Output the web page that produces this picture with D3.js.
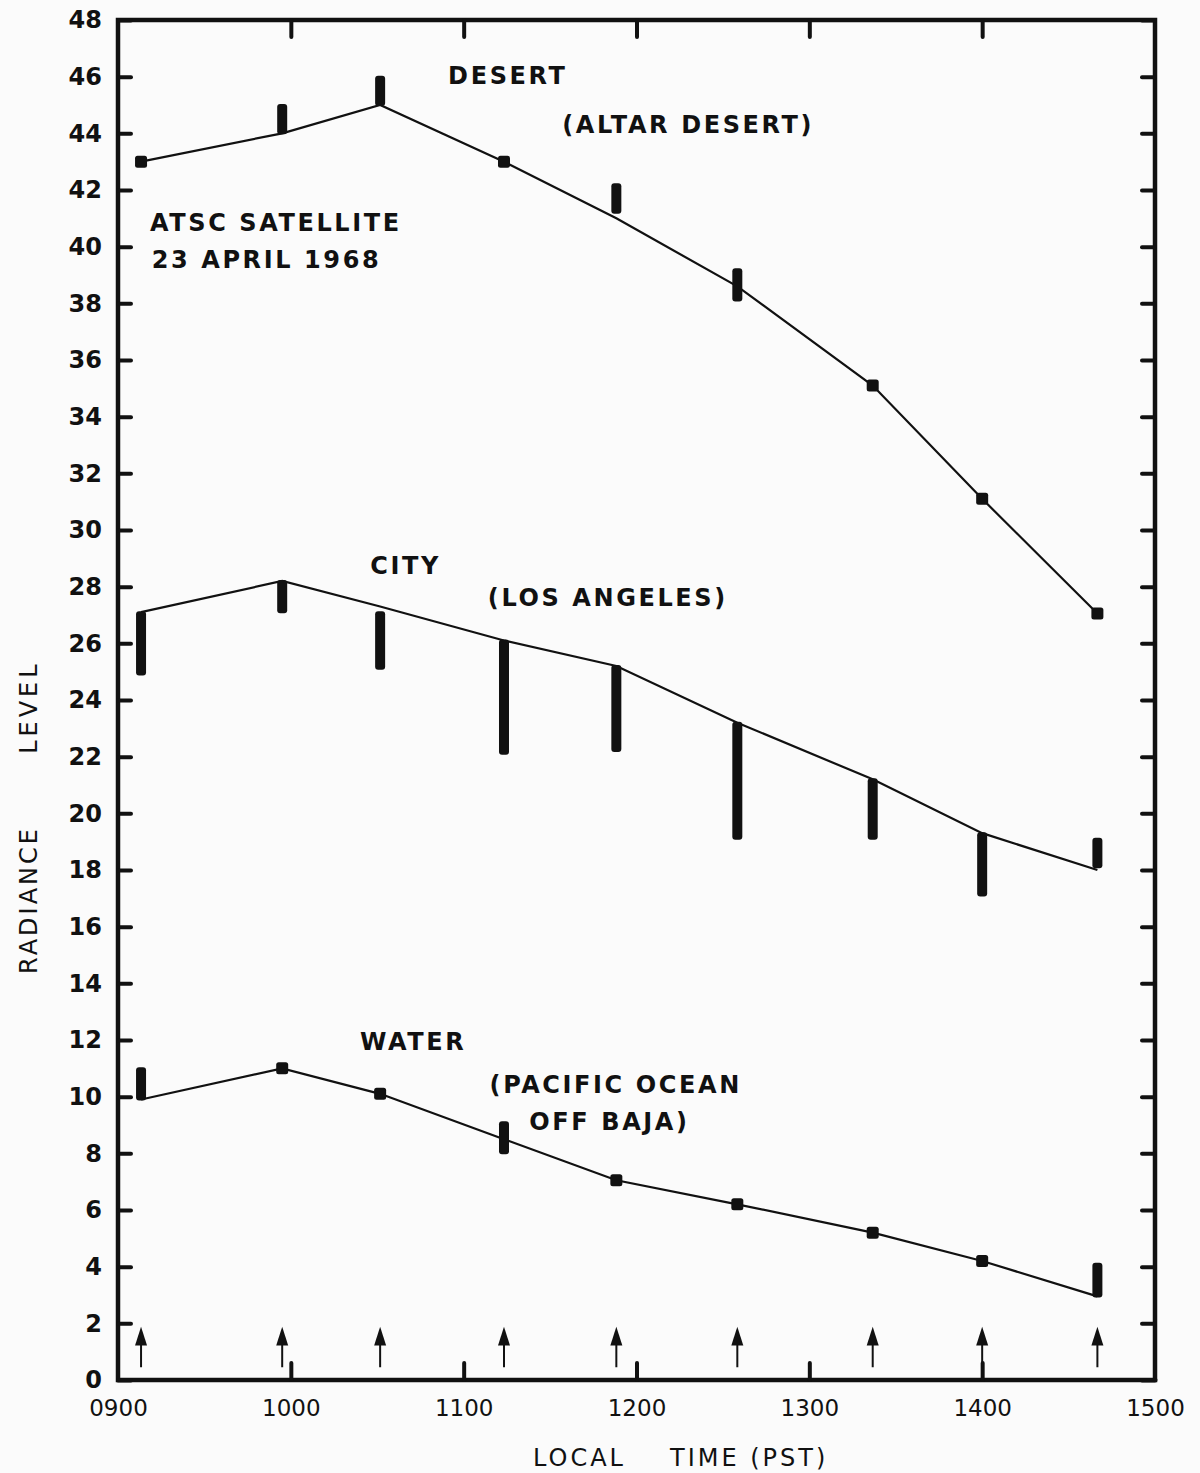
<!DOCTYPE html>
<html>
<head>
<meta charset="utf-8">
<script src="https://cdn.jsdelivr.net/npm/d3@7"></script>
<style>
  html, body { margin: 0; padding: 0; background: #fbfbfb; }
  svg { display: block; }
  text { font-family: "DejaVu Sans", sans-serif; fill: #111; }
</style>
</head>
<body>
<svg id="chart" width="1200" height="1473"></svg>
<script>
// ---- data ----
const times = ["0908", "0957", "1031", "1114", "1153", "1235", "1322", "1400", "1440"];

const desertLine = [43.0, 44.0, 45.0, 43.0, 41.0, 38.6, 35.1, 31.1, 27.05];
const desertLow  = [43.0, 44.0, 45.0, 43.0, 41.2, 38.1, 35.1, 31.1, 27.05];
const desertHigh = [43.0, 45.0, 46.0, 43.0, 42.2, 39.2, 35.1, 31.1, 27.05];

const cityLine = [27.1, 28.2, 27.3, 26.1, 25.2, 23.2, 21.2, 19.3, 18.0];
const cityLow  = [24.9, 27.1, 25.1, 22.1, 22.2, 19.1, 19.1, 17.1, 18.1];
const cityHigh = [27.1, 28.2, 27.1, 26.1, 25.2, 23.2, 21.2, 19.3, 19.1];

const waterLine = [9.9, 11.0, 10.1, 8.5, 7.05, 6.2, 5.2, 4.2, 2.95];
const waterLow  = [9.9, 11.0, 10.1, 8.0, 7.05, 6.2, 5.2, 4.2, 2.95];
const waterHigh = [11.0, 11.0, 10.1, 9.1, 7.05, 6.2, 5.2, 4.2, 4.1];

const xTickValues = [9, 10, 11, 12, 13, 14, 15];
const xTickLabels = ["0900", "1000", "1100", "1200", "1300", "1400", "1500"];
const innerXTicks = [10, 11, 12, 13, 14];
const yTickValues = d3.range(0, 49, 2);

const seriesLabels = [
  { text: "DESERT", t: 10.91, v: 45.75 },
  { text: "(ALTAR DESERT)", t: 11.57, v: 44.0 },
  { text: "ATSC SATELLITE", t: 9.185, v: 40.55 },
  { text: "23 APRIL 1968", t: 9.195, v: 39.25 },
  { text: "CITY", t: 10.46, v: 28.45 },
  { text: "(LOS ANGELES)", t: 11.14, v: 27.32 },
  { text: "WATER", t: 10.40, v: 11.65 },
  { text: "(PACIFIC OCEAN", t: 11.15, v: 10.13 },
  { text: "OFF BAJA)", t: 11.38, v: 8.82 }
];

// ---- layout ----
const svg = d3.select("#chart");
const mLeft = 118, mRight = 1155, mTop = 20, mBottom = 1380;

const toHours = s => +s.slice(0, 2) + (+s.slice(2)) / 60;
const x = d3.scaleLinear().domain([9, 15]).range([mLeft, mRight]);
const y = d3.scaleLinear().domain([0, 48]).range([mBottom, mTop]);

// frame
svg.append("rect")
  .attr("x", mLeft).attr("y", mTop)
  .attr("width", mRight - mLeft).attr("height", mBottom - mTop)
  .attr("fill", "none").attr("stroke", "#111").attr("stroke-width", 4.5);

// left axis (ticks inward, labels)
const gL = svg.append("g").attr("transform", `translate(${mLeft},0)`)
  .call(d3.axisLeft(y).tickValues(yTickValues).tickSize(-13).tickPadding(16).tickFormat(d3.format("d")));
// right axis ticks inward
const gR = svg.append("g").attr("transform", `translate(${mRight},0)`)
  .call(d3.axisRight(y).tickValues(yTickValues).tickSize(-13).tickFormat(""));
// bottom axis: labels at all hours, inward ticks at inner hours
const gB = svg.append("g").attr("transform", `translate(0,${mBottom})`)
  .call(d3.axisBottom(x).tickValues(xTickValues).tickSize(0).tickPadding(20)
    .tickFormat((d, i) => xTickLabels[i]));
const gB2 = svg.append("g").attr("transform", `translate(0,${mBottom})`)
  .call(d3.axisBottom(x).tickValues(innerXTicks).tickSize(-17).tickFormat(""));
const gT = svg.append("g").attr("transform", `translate(0,${mTop})`)
  .call(d3.axisTop(x).tickValues(innerXTicks).tickSize(-17).tickFormat(""));

[gL, gR, gB, gB2, gT].forEach(g => {
  g.select(".domain").remove();
  g.selectAll(".tick line").attr("stroke", "#111").attr("stroke-width", 4).attr("stroke-linecap", "round");
});
gL.selectAll(".tick text")
  .style("font-family", "DejaVu Sans").style("font-size", "24px").style("font-weight", "bold").attr("fill", "#111");
gB.selectAll(".tick text")
  .style("font-family", "DejaVu Sans").style("font-size", "23px").attr("fill", "#111");

// axis titles
const xt = svg.append("text")
  .attr("y", mBottom + 86)
  .style("font-size", "24px").style("letter-spacing", "3px");
xt.append("tspan").attr("x", 533).text("LOCAL");
xt.append("tspan").attr("x", 670).text("TIME (PST)");

svg.append("text")
  .attr("transform", `translate(37,${y(16.94)}) rotate(-90)`)
  .attr("text-anchor", "middle")
  .style("font-size", "24px").style("letter-spacing", "3px")
  .text("RADIANCE");
svg.append("text")
  .attr("transform", `translate(37,${y(23.75)}) rotate(-90)`)
  .attr("text-anchor", "middle")
  .style("font-size", "24px").style("letter-spacing", "4px")
  .text("LEVEL");

// series
const series = [
  { line: desertLine, low: desertLow, high: desertHigh },
  { line: cityLine, low: cityLow, high: cityHigh },
  { line: waterLine, low: waterLow, high: waterHigh }
];
const lineGen = d3.line().x(d => x(d.t)).y(d => y(d.v));

series.forEach(s => {
  const pts = times.map((tm, i) => ({ t: toHours(tm), v: s.line[i], lo: s.low[i], hi: s.high[i] }));
  svg.append("path").datum(pts)
    .attr("d", lineGen)
    .attr("fill", "none").attr("stroke", "#111").attr("stroke-width", 2.2);
  svg.append("g").selectAll("rect").data(pts).join("rect")
    .each(function (d) {
      const isSquare = d.hi - d.lo < 0.05;
      const sel = d3.select(this);
      if (isSquare) {
        sel.attr("x", x(d.t) - 6).attr("y", y(d.v) - 6).attr("width", 12).attr("height", 12).attr("rx", 2.5);
      } else {
        sel.attr("x", x(d.t) - 5).attr("y", y(d.hi) - 1).attr("width", 10)
          .attr("height", y(d.lo) - y(d.hi) + 2).attr("rx", 3);
      }
    })
    .attr("fill", "#111");
});

// observation arrows
const arrows = svg.append("g");
times.forEach(tm => {
  const ax = x(toHours(tm));
  arrows.append("line")
    .attr("x1", ax).attr("x2", ax)
    .attr("y1", y(0.45)).attr("y2", y(1.4))
    .attr("stroke", "#111").attr("stroke-width", 2);
  arrows.append("path")
    .attr("d", `M${ax},${y(1.88)} L${ax - 6},${y(1.22)} L${ax + 6},${y(1.22)} Z`)
    .attr("fill", "#111");
});

// labels
svg.append("g").selectAll("text").data(seriesLabels).join("text")
  .attr("x", d => x(d.t)).attr("y", d => y(d.v))
  .style("font-size", "24px").style("font-weight", "bold").style("letter-spacing", "2.6px")
  .text(d => d.text);
</script>
</body>
</html>
